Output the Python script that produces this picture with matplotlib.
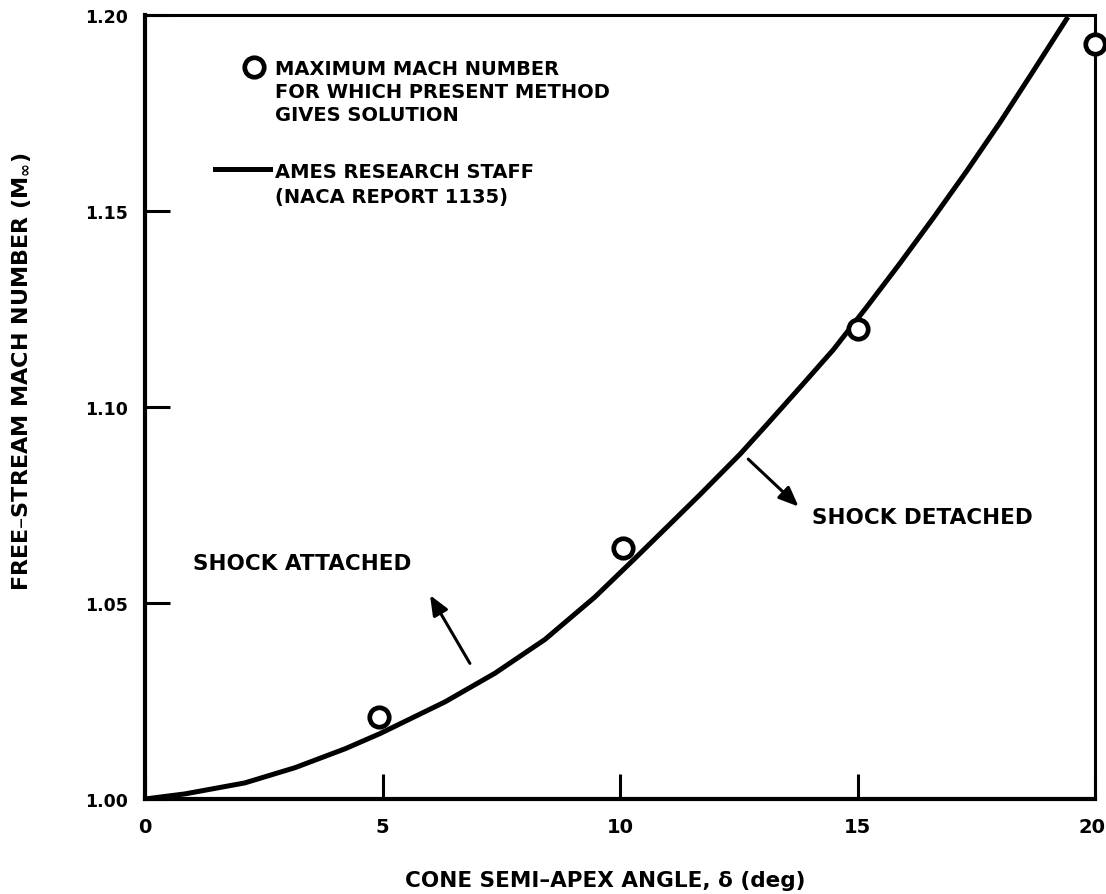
import matplotlib
matplotlib.use('Agg')
import matplotlib.pyplot as plt
from matplotlib.transforms import ScaledTranslation

# curva da NACA 1135
delta_curve = [0, 0.84, 2.1, 3.16, 4.21, 4.95, 6.32, 7.37, 8.42, 9.47, 10.3, 11.0, 11.68, 12.53,
               13.09, 13.79, 14.49, 15.2, 15.89, 16.6, 17.3, 18.0, 18.69, 19.43]
mach_curve = [1.000, 1.0013, 1.0041, 1.0080, 1.0128, 1.0167, 1.0248, 1.0321, 1.0407, 1.0515,
              1.0612, 1.0695, 1.0776, 1.0880, 1.0955, 1.1050, 1.1146, 1.1256, 1.1366, 1.1483,
              1.1602, 1.1726, 1.1855, 1.1995]

# pontos do método presente
delta_pts = [4.92, 10.06, 15.02, 20.0]
mach_pts = [1.0208, 1.0641, 1.120, 1.1926]

x_ticks = [0, 5, 10, 15, 20]
x_labels = ['0', '5', '10', '15', '20']
y_ticks = [1.00, 1.05, 1.10, 1.15, 1.20]
y_labels = ['1.00', '1.05', '1.10', '1.15', '1.20']

label_pts = 'MAXIMUM MACH NUMBER\nFOR WHICH PRESENT METHOD\nGIVES SOLUTION'
label_curve = 'AMES RESEARCH STAFF\n(NACA REPORT 1135)'
xlabel = 'CONE SEMI\u2013APEX ANGLE, \u03b4 (deg)'
ylabel = 'FREE\u2013STREAM MACH NUMBER (M$_{\\infty}$)'

plt.rcParams['font.family'] = 'DejaVu Sans'
plt.rcParams['font.weight'] = 'bold'

fig = plt.figure(figsize=(11.06, 8.95), dpi=100)
ax = fig.add_axes([145 / 1106, 95 / 895, 950 / 1106, 784 / 895])

ax.plot(delta_curve, mach_curve, color='black', lw=3.6, solid_capstyle='butt')
ax.plot(delta_pts, mach_pts, 'o', color='black', markerfacecolor='white', markersize=14,
        markeredgewidth=3.4, clip_on=False, zorder=5)

ax.set_xlim(0, 20)
ax.set_ylim(1.0, 1.2)
ax.set_xticks(x_ticks)
ax.set_xticklabels(x_labels, fontsize=14, fontweight='bold')
ax.set_yticks(y_ticks)
ax.set_yticklabels(y_labels, fontsize=12.5, fontweight='bold')
ax.tick_params(direction='in', length=18, width=2.2)
ax.tick_params(axis='x', pad=13)
ax.tick_params(axis='y', pad=12)

# o "20" fica encostado na borda direita, como no original
last = ax.get_xticklabels()[-1]
last.set_ha('right')
last.set_transform(last.get_transform() + ScaledTranslation(10 / 100, 0, fig.dpi_scale_trans))

for s in ['left', 'bottom']:
    ax.spines[s].set_linewidth(3)
for s in ['top', 'right']:
    ax.spines[s].set_linewidth(2.2)

fig.text(605 / 1106, 1 - 881 / 895, xlabel, ha='center', va='center', fontsize=15.5, fontweight='bold')
fig.text(22 / 1106, 1 - 372 / 895, ylabel, ha='center', va='center', rotation=90,
         fontsize=16, fontweight='bold')

# legenda feita à mão
ax.plot([0.1147], [0.9337], 'o', color='black', markerfacecolor='white', markersize=14,
        markeredgewidth=3.4, transform=ax.transAxes)
ax.text(0.1368, 0.9439, label_pts, ha='left', va='top', fontsize=14, fontweight='bold',
        linespacing=1.28, transform=ax.transAxes)
ax.plot([0.0737, 0.1316], [0.8036, 0.8036], color='black', lw=3.6, transform=ax.transAxes)
ax.text(0.1368, 0.8125, label_curve, ha='left', va='top', fontsize=14, fontweight='bold',
        linespacing=1.4, transform=ax.transAxes)

# anotações
ax.text(1.01, 1.0603, 'SHOCK ATTACHED', ha='left', va='center', fontsize=15.5, fontweight='bold')
ax.text(14.04, 1.072, 'SHOCK DETACHED', ha='left', va='center', fontsize=15.5, fontweight='bold')
arrow = dict(arrowstyle='-|>,head_length=0.6,head_width=0.25', color='black', lw=2.2,
             mutation_scale=20, shrinkA=0, shrinkB=0)
ax.annotate('', xy=(6.0, 1.052), xytext=(6.84, 1.0346), arrowprops=arrow)
ax.annotate('', xy=(13.76, 1.0746), xytext=(12.7, 1.0867), arrowprops=arrow)

plt.savefig('out.png', dpi=100)
